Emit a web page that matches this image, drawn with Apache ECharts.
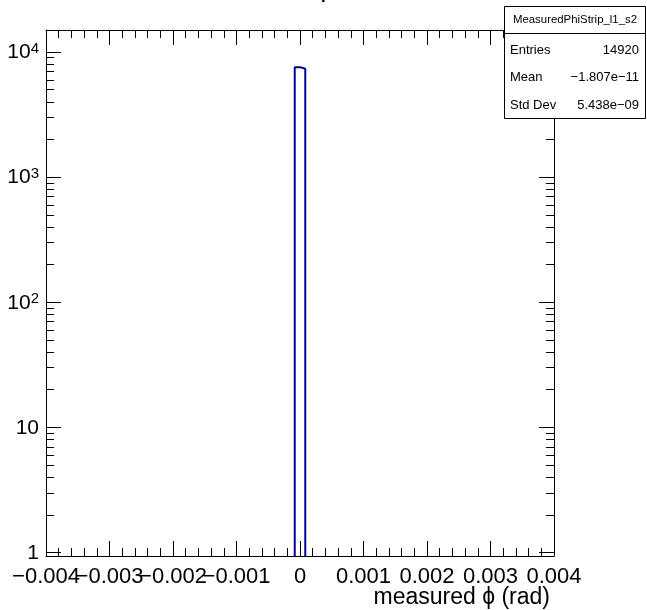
<!DOCTYPE html>
<html><head><meta charset="utf-8">
<script src="https://cdn.jsdelivr.net/npm/echarts@6/dist/echarts.min.js"></script>
<style>html,body{margin:0;padding:0;background:#fff}#c{width:647px;height:610px}</style>
</head><body><div id="c"></div>
<script>
// ---- data ----
const binEdges = [-0.000083, 0, 0.000083];
const binCounts = [7570, 7350];
const xTickValues = [-0.004, -0.003, -0.002, -0.001, 0, 0.001, 0.002, 0.003, 0.004];
const xTickLabels = ['\u22120.004', '\u22120.003', '\u22120.002', '\u22120.001', '0', '0.001', '0.002', '0.003', '0.004'];
const yDecades = [0, 1, 2, 3, 4];
const yTickLabels = ['1', '10', '10^2', '10^3', '10^4'];
const statsName = 'MeasuredPhiStrip_l1_s2';
const statsLabels = ['Entries', 'Mean', 'Std Dev'];
const statsValues = ['14920', '\u22121.807e\u221211', '5.438e\u221209'];
const xTitle = 'measured \u03d5 (rad)';
const titleText = '\u03d5';

// ---- axis ranges ----
const X_MIN = -0.004, X_MAX = 0.004, X_STEP = 0.001;
const LOG_MIN = -0.028, LOG_MAX = 4.176;

const FONT = '"Liberation Sans", Arial, Helvetica, sans-serif';

// histogram outline in log10 space
const pts = [[binEdges[0], LOG_MIN]];
for (let i = 0; i < binCounts.length; i++) {
  const ly = Math.log10(binCounts[i]);
  pts.push([binEdges[i], ly]);
  pts.push([binEdges[i + 1], ly]);
}
pts.push([binEdges[binEdges.length - 1], LOG_MIN]);

const minorY = [];
yDecades.forEach(d => {
  for (let k = 2; k <= 9; k++) {
    const v = d + Math.log10(k);
    if (v < LOG_MAX) minorY.push(v);
  }
});

const xEven = xTickValues.filter((v, i) => i % 2 === 0);
const xOdd = xTickValues.filter((v, i) => i % 2 === 1);

function xLabel(v) {
  for (let i = 0; i < xTickValues.length; i++) {
    if (Math.abs(v - xTickValues[i]) < 1e-9) return xTickLabels[i];
  }
  return '';
}
function yLabel(v) {
  const i = yDecades.indexOf(Math.round(v));
  if (i < 0) return '';
  const s = yTickLabels[i];
  if (s.indexOf('^') >= 0) {
    const p = s.split('^');
    return '{b|' + p[0] + '}{s|' + p[1] + '}';
  }
  return '{b|' + s + '}';
}

const black = '#000';
function xAx(pos, showLine, labelValues) {
  return {
    type: 'value', position: pos, min: X_MIN, max: X_MAX, interval: X_STEP,
    axisLine: { show: showLine, onZero: false, lineStyle: { color: black, width: 1 } },
    axisTick: { show: showLine, inside: true, length: 15, lineStyle: { color: black, width: 1 } },
    minorTick: { show: showLine, splitNumber: 5, length: 8, lineStyle: { color: black, width: 1 } },
    splitLine: { show: false },
    axisLabel: {
      show: !!labelValues, customValues: labelValues || undefined, formatter: xLabel,
      color: black, fontFamily: FONT, fontSize: 22, margin: 10,
      showMinLabel: true, showMaxLabel: true, hideOverlap: false
    }
  };
}
function yAx(pos, major, showLabel) {
  return {
    type: 'value', position: pos, min: LOG_MIN, max: LOG_MAX,
    axisLine: { show: major, onZero: false, lineStyle: { color: black, width: 1 } },
    axisTick: {
      show: true, inside: true, length: major ? 15 : 8,
      customValues: major ? yDecades : minorY,
      lineStyle: { color: black, width: 1 }
    },
    splitLine: { show: false },
    axisLabel: {
      show: showLabel, customValues: yDecades, formatter: yLabel, margin: 7,
      rich: {
        b: { fontFamily: FONT, fontSize: 21, color: black, lineHeight: 22, verticalAlign: 'bottom' },
        s: { fontFamily: FONT, fontSize: 15, color: black, lineHeight: 14, verticalAlign: 'top' }
      }
    }
  };
}

const chart = echarts.init(document.getElementById('c'), null, { renderer: 'canvas' });
const BX = 504, BY = 6, BW = 141, BH = 112;
chart.setOption({
  animation: false,
  backgroundColor: '#fff',
  grid: { left: 46, right: 93, top: 30, bottom: 54, containLabel: false },
  xAxis: [xAx('bottom', true, xEven), xAx('bottom', false, xOdd), xAx('top', true, null)],
  yAxis: [yAx('left', true, true), yAx('left', false, false), yAx('right', true, false), yAx('right', false, false)],
  series: [{
    type: 'line', xAxisIndex: 0, yAxisIndex: 0, data: pts, showSymbol: false,
    lineStyle: { color: '#000099', width: 2 }, clip: true, z: 3
  }],
  graphic: [
    { type: 'text', x: 323.5, y: -12, z: 100,
      style: { text: titleText, font: '30px ' + FONT, fill: black, textAlign: 'center', textVerticalAlign: 'middle' } },
    { type: 'text', x: 550, y: 598, z: 100,
      style: { text: xTitle, font: '23px ' + FONT, fill: black, textAlign: 'right', textVerticalAlign: 'middle' } },
    { type: 'rect', z: 100, shape: { x: BX + 0.5, y: BY + 0.5, width: BW, height: BH },
      style: { fill: '#fff', stroke: black, lineWidth: 1 } },
    { type: 'line', z: 101, shape: { x1: BX + 0.5, y1: BY + 27.5, x2: BX + BW + 0.5, y2: BY + 27.5 },
      style: { stroke: black, lineWidth: 1 } },
    { type: 'text', z: 101, x: BX + 71, y: BY + 14,
      style: { text: statsName, font: '11.4px ' + FONT, fill: black, textAlign: 'center', textVerticalAlign: 'middle' } },
    ...statsLabels.map((t, i) => ({ type: 'text', z: 101, x: BX + 6, y: BY + 44 + i * 27.5,
      style: { text: t, font: '13px ' + FONT, fill: black, textAlign: 'left', textVerticalAlign: 'middle' } })),
    ...statsValues.map((t, i) => ({ type: 'text', z: 101, x: BX + 135, y: BY + 44 + i * 27.5,
      style: { text: t, font: '13px ' + FONT, fill: black, textAlign: 'right', textVerticalAlign: 'middle' } }))
  ]
});
</script></body></html>
